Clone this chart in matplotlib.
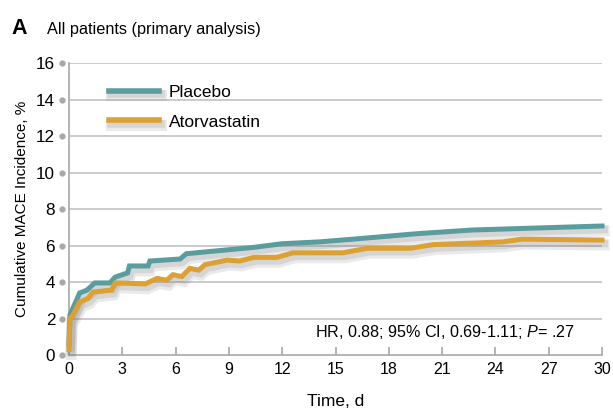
import matplotlib
matplotlib.use('Agg')
import matplotlib.pyplot as plt
import matplotlib.patheffects as pe
import matplotlib.transforms as mtransforms

plt.rcParams['font.family'] = ['Liberation Sans', 'DejaVu Sans']
plt.rcParams['mathtext.fontset'] = 'custom'
plt.rcParams['mathtext.rm'] = 'Liberation Sans'
plt.rcParams['mathtext.it'] = 'Liberation Sans:italic'

# Cumulative incidence (day, %)
placebo_days = [0, 0.05, 0.6, 1.0, 1.45, 2.3, 2.6, 3.3, 3.4, 4.45, 4.55, 6.25, 6.6,
                10.4, 12.0, 14.1, 16.0, 19.6, 22.7, 26.0, 30.0]
placebo_pct = [0.6, 2.2, 3.4, 3.55, 3.95, 3.95, 4.27, 4.5, 4.88, 4.88, 5.15, 5.26, 5.55,
               5.9, 6.1, 6.2, 6.35, 6.65, 6.85, 6.95, 7.07]

atorva_days = [0, 0.05, 0.2, 0.6, 1.07, 1.35, 2.4, 2.6, 4.3, 4.95, 5.5, 5.85, 6.35,
               6.8, 7.3, 7.65, 8.9, 9.6, 10.4, 11.7, 12.6, 15.4, 16.8, 19.2, 20.5,
               24.4, 25.5, 30.0]
atorva_pct = [0.3, 2.0, 2.15, 2.9, 3.1, 3.45, 3.56, 3.95, 3.9, 4.2, 4.1, 4.4, 4.3,
              4.75, 4.65, 4.95, 5.2, 5.15, 5.35, 5.35, 5.6, 5.6, 5.85, 5.85, 6.05,
              6.2, 6.35, 6.3]

x_ticks = [0, 3, 6, 9, 12, 15, 18, 21, 24, 27, 30]
y_ticks = [0, 2, 4, 6, 8, 10, 12, 14, 16]

teal = '#5a9d9e'
gold = '#dca132'
grey = '#a8a8a8'

fig = plt.figure(figsize=(6.13, 4.12), dpi=100)
ax = fig.add_axes([0.1126, 0.1383, 0.8695, 0.7087])

shadow = [pe.SimpleLineShadow(offset=(1.5, -3.5), shadow_color='#777777', alpha=0.15, linewidth=8),
          pe.SimpleLineShadow(offset=(1.5, -2.5), shadow_color='#777777', alpha=0.18, linewidth=5.5),
          pe.Normal()]

ax.plot(placebo_days, placebo_pct, color=teal, lw=3.6, label='Placebo',
        path_effects=shadow, clip_on=False, zorder=4, solid_joinstyle='miter')
ax.plot(atorva_days, atorva_pct, color=gold, lw=3.6, label='Atorvastatin',
        path_effects=shadow, clip_on=False, zorder=5, solid_joinstyle='miter')

ax.set_xlim(0, 30)
ax.set_ylim(0, 16)
ax.set_xticks(x_ticks)
ax.set_yticks(y_ticks)

for y in y_ticks[1:]:
    ax.axhline(y, color='#c2c2c2', lw=1.2, zorder=1)

for s in ['top', 'right']:
    ax.spines[s].set_visible(False)
ax.spines['left'].set_color(grey)
ax.spines['bottom'].set_color(grey)
ax.spines['left'].set_linewidth(1.2)
ax.spines['bottom'].set_linewidth(1.2)

ax.tick_params(axis='x', direction='in', length=6, width=1.2, color=grey,
               labelsize=11.5, pad=5)
ax.tick_params(axis='y', length=0, labelsize=12.3, pad=10)

# small dots as y tick marks
trans = mtransforms.blended_transform_factory(ax.transAxes, ax.transData)
ax.plot([-0.013] * len(y_ticks), y_ticks, 'o', color=grey, ms=3.5,
        transform=trans, clip_on=False)

ax.set_xlabel('Time, d', fontsize=12.5, labelpad=12)
ax.set_ylabel('Cumulative MACE Incidence, %', fontsize=11, labelpad=5)

leg = ax.legend(loc='upper left', bbox_to_anchor=(0.045, 0.98), frameon=False,
                fontsize=12.5, handlelength=2.9, handletextpad=0.55, labelspacing=0.85)
for h in leg.get_lines():
    h.set_linewidth(4)

ax.text(28.5, 1.0, 'HR, 0.88; 95% CI, 0.69-1.11; $P$= .27', fontsize=11.6,
        ha='right', va='baseline')

fig.text(0.019, 0.918, 'A', fontsize=15.5, fontweight='bold', va='baseline')
fig.text(0.077, 0.918, 'All patients (primary analysis)', fontsize=11.7, va='baseline')

fig.savefig('out.png', dpi=100)
